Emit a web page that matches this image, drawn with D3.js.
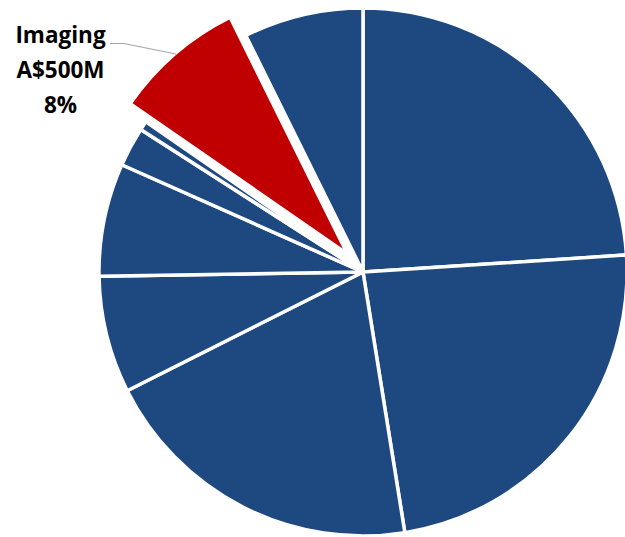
<!DOCTYPE html>
<html>
<head>
<meta charset="utf-8">
<script src="https://cdn.jsdelivr.net/npm/d3@7"></script>
<style>
  html, body { margin: 0; padding: 0; background: #fff; }
  svg { display: block; }
</style>
</head>
<body>
<svg id="chart" width="625" height="537"></svg>
<script>
// Spending by segment, A$ millions (clockwise from 12 o'clock)
const segments = ["Seg A", "Seg B", "Seg C", "Seg D", "Seg E", "Seg F", "Seg G", "Imaging", "Seg I"];
const values   = [1490, 1460, 1250, 445, 430, 150, 35, 500, 455];
const highlight = "Imaging";
const labelLines = ["Imaging", "A$500M", "8%"];

const width = 625, height = 537;
const cx = 363, cy = 272, radius = 264;
const explode = 24;

const svg = d3.select("#chart");
const g = svg.append("g").attr("transform", `translate(${cx},${cy})`);

const data = segments.map((name, i) => ({ name, value: values[i] }));
const pie = d3.pie().sort(null).value(d => d.value);
const arc = d3.arc().innerRadius(0).outerRadius(radius);
const arcs = pie(data);

g.selectAll("path")
  .data(arcs)
  .join("path")
  .attr("d", arc)
  .attr("transform", d => {
    if (d.data.name !== highlight) return null;
    const mid = (d.startAngle + d.endAngle) / 2;
    return `translate(${Math.sin(mid) * explode},${-Math.cos(mid) * explode})`;
  })
  .attr("fill", d => d.data.name === highlight ? "#c00000" : "#1d4980")
  .attr("stroke", "#fff")
  .attr("stroke-width", 3.5)
  .attr("stroke-linejoin", "round");

// Leader line for the highlighted slice
svg.append("polyline")
  .attr("points", "110,43.5 124,43.5 176,54")
  .attr("fill", "none")
  .attr("stroke", "#a6a6a6")
  .attr("stroke-width", 1.2);

const label = svg.append("text")
  .attr("text-anchor", "middle")
  .attr("font-family", "'Open Sans', Lato, sans-serif")
  .attr("font-weight", "bold")
  .attr("font-size", 22.5)
  .attr("fill", "#000");

label.selectAll("tspan")
  .data(labelLines)
  .join("tspan")
  .attr("x", 60.5)
  .attr("y", (d, i) => 43 + i * 35)
  .text(d => d);
</script>
</body>
</html>
